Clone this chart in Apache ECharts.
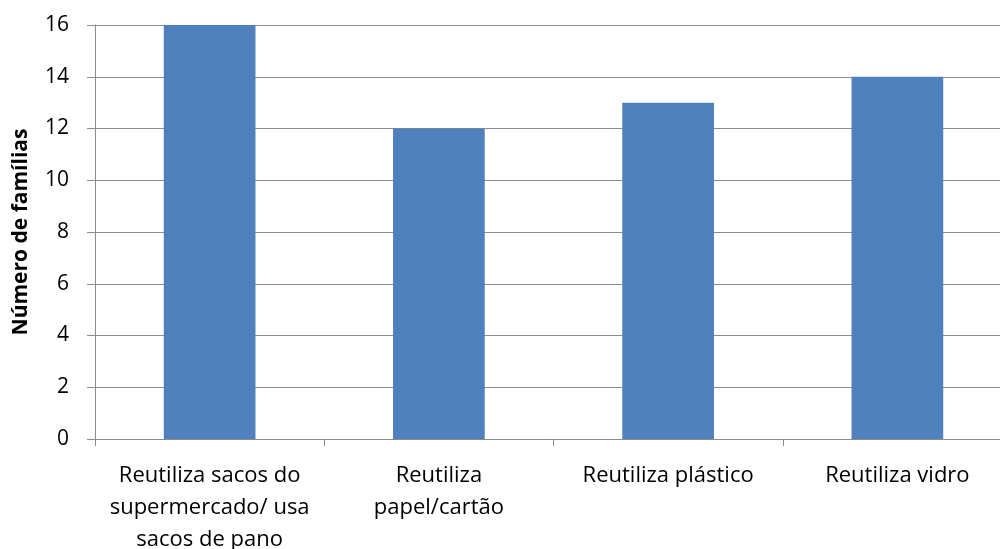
<!DOCTYPE html>
<html>
<head>
<meta charset="utf-8">
<script src="https://cdn.jsdelivr.net/npm/echarts@6/dist/echarts.min.js"></script>
<style>
  html, body { margin: 0; padding: 0; background: #fff; }
  #chart { width: 1000px; height: 549px; }
</style>
</head>
<body>
<div id="chart"></div>
<script>
// Categories (line breaks placed where the labels wrap)
const categories = [
  'Reutiliza sacos do\nsupermercado/ usa\nsacos de pano',
  'Reutiliza\npapel/cartão',
  'Reutiliza plástico',
  'Reutiliza vidro'
];
// Number of families per practice
const familias = [16, 12, 13, 14];
const yTicks = { min: 0, max: 16, interval: 2 };
const yAxisTitle = 'Número de famílias';

const font = '"Open Sans", Lato, sans-serif';
const gridColor = '#8c8c8c';

const chart = echarts.init(document.getElementById('chart'), null, { renderer: 'canvas' });
chart.setOption({
  animation: false,
  backgroundColor: '#ffffff',
  grid: {
    left: 95, top: 25, width: 917, height: 414,
    containLabel: false,
    outerBoundsMode: 'none'
  },
  xAxis: {
    type: 'category',
    data: categories,
    axisLine: { show: true, lineStyle: { color: gridColor, width: 1 } },
    axisTick: { show: true, length: 7, alignWithLabel: false, lineStyle: { color: gridColor } },
    axisLabel: {
      interval: 0,
      margin: 21,
      color: '#000',
      fontFamily: font,
      fontSize: 22,
      lineHeight: 32
    }
  },
  yAxis: {
    type: 'value',
    min: yTicks.min,
    max: yTicks.max,
    interval: yTicks.interval,
    name: yAxisTitle,
    nameLocation: 'middle',
    nameGap: 63,
    nameTextStyle: { color: '#000', fontFamily: font, fontSize: 21, fontWeight: 'bold' },
    axisLine: { show: true, lineStyle: { color: gridColor, width: 1 } },
    axisTick: { show: true, length: 8, lineStyle: { color: gridColor } },
    axisLabel: { margin: 26, color: '#000', fontFamily: font, fontSize: 21 },
    splitLine: { show: true, lineStyle: { color: gridColor, width: 1 } }
  },
  series: [{
    type: 'bar',
    data: familias,
    barWidth: '40%',
    itemStyle: { color: '#4F81BD' }
  }]
});
</script>
</body>
</html>
